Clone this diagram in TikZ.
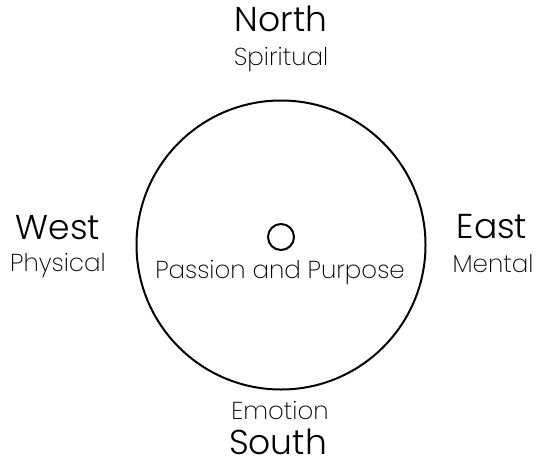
\documentclass[tikz,border=0pt]{standalone}
\usepackage{fontspec}
\setmainfont{Poppins}[UprightFont={* Light}]
\newfontfamily\thinfont{Poppins}[UprightFont={* ExtraLight}]
\usetikzlibrary{positioning}
\tikzset{
  point/.style = {font=\fontsize{34.5}{34.5}\selectfont, inner sep=0pt, anchor=base},
  aspect/.style= {font=\thinfont\fontsize{24.5}{24.5}\selectfont, inner sep=0pt, anchor=base},
  ring/.style  = {circle, draw, line width=2pt, inner sep=0pt}
}

\begin{document}
\begin{tikzpicture}[x=1pt, y=-1pt]
        \useasboundingbox (0,0) rectangle (540,466);
        \node[ring, minimum size=289pt] (wheel)  at (281,245) {};
        \node[ring, minimum size=26pt]  (centre) at (281,237) {};
        \node[aspect] (passion) at (280,278) {Passion and Purpose};
        \node[point]  (north) at (281,31)  {North};
        \node[aspect] (spirit) at (281,65) {Spiritual};
        \node[point]  (west) at (58,239)   {West};
        \node[aspect] (body) at (58,271)   {Physical};
        \node[point]  (east) at (492,238)  {East};
        \node[aspect] (mind) at (493,272)  {Mental};
        \node[aspect] (heart) at (280,419) {Emotion};
        \node[point]  (south) at (278,454) {South};
      \end{tikzpicture}
\end{document}
